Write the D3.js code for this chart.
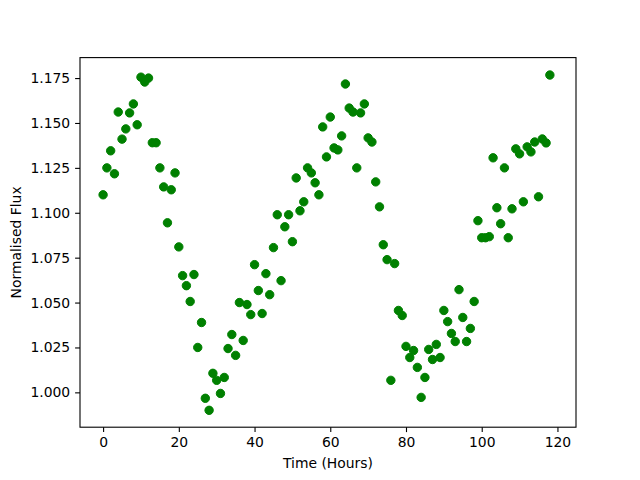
<!DOCTYPE html>
<html>
<head>
<meta charset="utf-8">
<script src="https://cdn.jsdelivr.net/npm/d3@7"></script>
<style>
body { margin: 0; background: #fff; }
text { font-family: "DejaVu Sans", sans-serif; font-size: 13.9px; fill: #000; }
</style>
</head>
<body>
<svg id="chart"></svg>
<script>
var width = 640;
var height = 480;

// flux readings, one per hour starting at t = 0
var flux = [
    1.110, 1.125, 1.1345, 1.1217, 1.1561, 1.141, 1.1467, 1.1556, 1.1606, 1.149,
    1.1755, 1.1728, 1.175, 1.139, 1.139, 1.125, 1.1144, 1.0944, 1.1128, 1.1222,
    1.081, 1.065, 1.0594, 1.0506, 1.0656, 1.025, 1.0389, 0.9967, 0.990, 1.0106,
    1.0067, 0.9994, 1.0083, 1.0244, 1.0322, 1.0206, 1.050, 1.0289, 1.0489, 1.0433,
    1.0711, 1.0567, 1.0439, 1.0661, 1.0544, 1.0806, 1.0989, 1.0622, 1.0922, 1.0989,
    1.0839, 1.1194, 1.1011, 1.1061, 1.125, 1.1222, 1.1167, 1.110, 1.1478, 1.1311,
    1.1533, 1.1361, 1.135, 1.1428, 1.1717, 1.1583, 1.1561, 1.125, 1.1556, 1.1606,
    1.1417, 1.1394, 1.1172, 1.1033, 1.0822, 1.0739, 1.0067, 1.0717, 1.0456, 1.0428,
    1.0256, 1.0194, 1.0233, 1.0139, 0.9972, 1.0083, 1.0239, 1.0183, 1.0267, 1.0194,
    1.0456, 1.0394, 1.0328, 1.0283, 1.0572, 1.0417, 1.0283, 1.0356, 1.0506, 1.0956,
    1.0861, 1.0861, 1.0867, 1.1306, 1.1028, 1.0939, 1.125, 1.0861, 1.1022, 1.1356,
    1.1328, 1.1061, 1.1367, 1.1339, 1.1394, 1.1089, 1.1411, 1.1389, 1.1767
];
var hours = flux.map(function(d, i) { return i; });

var xTicks = [0, 20, 40, 60, 80, 100, 120];
var yTicks = [1.000, 1.025, 1.050, 1.075, 1.100, 1.125, 1.150, 1.175];

var padL = 80, padR = 576, padT = 57.6, padB = 427.2;

var svg = d3.select("#chart").attr("width", width).attr("height", height);

var x = d3.scaleLinear().domain([-6.1, 124.9]).range([padL, padR]);
var y = d3.scaleLinear().domain([0.9806, 1.1864]).range([padB, padT]);

var pts = svg.append("g");
pts.selectAll("circle")
    .data(flux)
    .enter()
    .append("circle")
    .attr("cx", function(d, i) { return x(hours[i]); })
    .attr("cy", function(d) { return y(d); })
    .attr("r", 4.2)
    .attr("fill", "#008000")
    .attr("stroke", "#008000")
    .attr("stroke-width", 1);

var xAxis = svg.append("g")
    .attr("transform", "translate(0," + padB + ")")
    .call(d3.axisBottom(x).tickValues(xTicks).tickSize(4.9).tickPadding(4.9).tickFormat(d3.format("d")));

var yAxis = svg.append("g")
    .attr("transform", "translate(" + padL + ",0)")
    .call(d3.axisLeft(y).tickValues(yTicks).tickSize(4.9).tickPadding(4.9).tickFormat(d3.format(".3f")));

[xAxis, yAxis].forEach(function(a) {
    a.select(".domain").remove();
    a.selectAll("line").attr("stroke", "#000").attr("stroke-width", 1.1);
    a.selectAll("text").attr("font-family", "DejaVu Sans").attr("font-size", 13.9).attr("fill", "#000");
});

svg.append("rect")
    .attr("x", padL).attr("y", padT)
    .attr("width", padR - padL).attr("height", padB - padT)
    .attr("fill", "none").attr("stroke", "#000").attr("stroke-width", 1.1);

svg.append("text")
    .attr("x", (padL + padR) / 2)
    .attr("y", 468)
    .attr("text-anchor", "middle")
    .text("Time (Hours)");

svg.append("text")
    .attr("transform", "translate(21," + ((padT + padB) / 2) + ") rotate(-90)")
    .attr("text-anchor", "middle")
    .text("Normalised Flux");
</script>
</body>
</html>
